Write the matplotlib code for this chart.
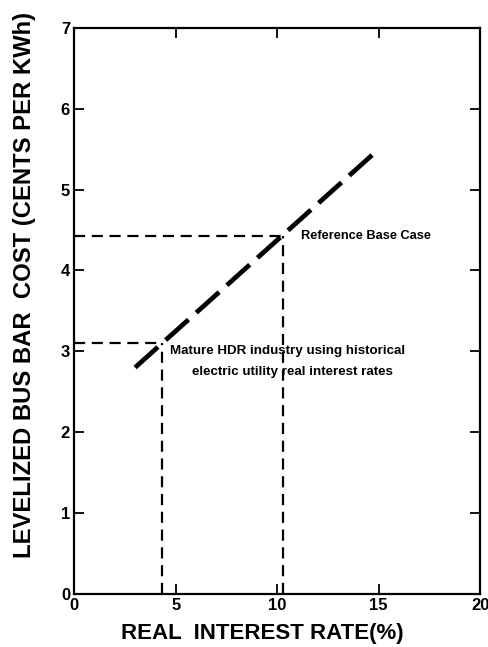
import matplotlib
matplotlib.use("Agg")
import matplotlib.pyplot as plt

# Cost line: levelized bus bar cost vs real interest rate
rate = [3.0, 15.0]
cost = [2.8, 5.5]

# Marked cases: (interest rate, cost)
case_rate = [4.35, 10.3]
case_cost = [3.1, 4.42]

x_ticks = [0, 5, 10, 15, 20]
y_ticks = [0, 1, 2, 3, 4, 5, 6, 7]

plt.rcParams["font.family"] = ["Liberation Sans", "DejaVu Sans"]
plt.rcParams["font.weight"] = "bold"

fig = plt.figure(figsize=(4.88, 6.47), dpi=100)
ax = fig.add_axes([0.152, 0.082, 0.832, 0.875])

ax.plot(rate, cost, color="black", lw=3.4, dashes=(6.5, 2.2), solid_capstyle="butt")

for r, c in zip(case_rate, case_cost):
    ax.plot([0, r], [c, c], color="black", lw=1.6, dashes=(5, 3))
    ax.plot([r, r], [0, c], color="black", lw=1.6, dashes=(5, 3))

ax.text(11.15, 4.42, "Reference Base Case", fontsize=9.2, va="center", ha="left")
ax.text(4.7, 3.0, "Mature HDR industry using historical", fontsize=9.6, va="center",
        ha="left")
ax.text(10.75, 2.74, "electric utility real interest rates", fontsize=9.6, va="center",
        ha="center")

ax.set_xlim(0, 20)
ax.set_ylim(0, 7)
ax.set_xticks(x_ticks)
ax.set_yticks(y_ticks)
ax.tick_params(direction="in", top=True, right=True, length=7, width=1.3, labelsize=12,
               pad=3)
for lab in ax.get_xticklabels() + ax.get_yticklabels():
    lab.set_fontweight("bold")
for s in ax.spines.values():
    s.set_linewidth(1.6)

ax.set_xlabel("REAL  INTEREST RATE(%)", fontsize=16, fontweight="bold")
ax.xaxis.set_label_coords(0.463, -0.052)
ax.set_ylabel("LEVELIZED BUS BAR  COST (CENTS PER KWh)", fontsize=17.2, fontweight="bold")
ax.yaxis.set_label_coords(-0.095, 0.546)

fig.savefig("out.png", dpi=100)
